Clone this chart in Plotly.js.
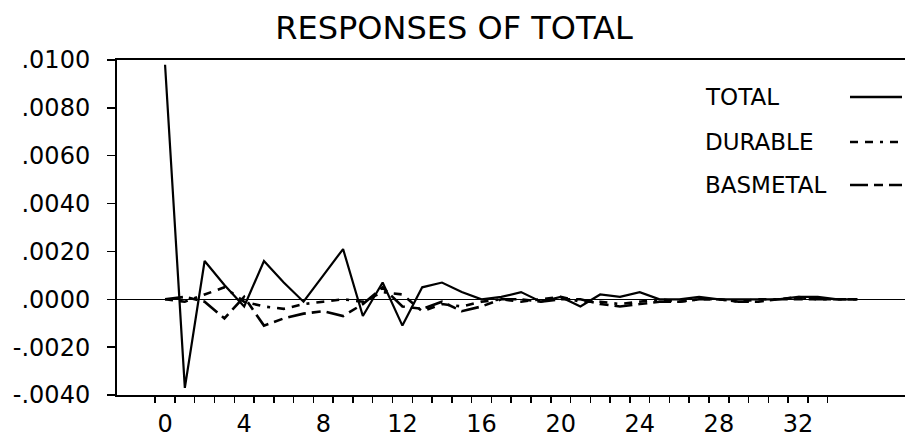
<!DOCTYPE html>
<html>
<head>
<meta charset="utf-8">
<script src="https://cdn.plot.ly/plotly-3.0.1.min.js"></script>
<style>html,body{margin:0;padding:0;background:#fff;}#chart{width:908px;height:437px;}</style>
</head>
<body>
<div id="chart"></div>
<script>
var steps = [];
for (var i = 0; i < 36; i++) steps.push(i);

var total = [0.0098, -0.0037, 0.0016, 0.0006, -0.0003, 0.0016, 0.0007, -0.0001, 0.0010, 0.0021,
             -0.0007, 0.0007, -0.0011, 0.0005, 0.0007, 0.0003, 0.0000, 0.0001, 0.0003, -0.0001,
             0.0001, -0.0003, 0.0002, 0.0001, 0.0003, 0.0000, 0.0000, 0.0001, 0.0000, 0.0000,
             0.0000, 0.0000, 0.0001, 0.0001, 0.0000, 0.0000];
var durable = [0.0000, -0.0001, 0.0002, 0.0005, -0.0001, -0.0003, -0.0004, -0.0002, -0.0001, 0.0000,
               -0.0001, 0.0003, 0.0002, -0.0005, -0.0002, -0.0003, -0.0001, 0.0000, -0.0001, 0.0000,
               0.0001, -0.0001, -0.0001, -0.0002, -0.0001, 0.0000, -0.0001, 0.0000, 0.0000, -0.0001,
               0.0000, 0.0000, 0.0001, 0.0000, 0.0000, 0.0000];
var basmetal = [0.0000, 0.0001, -0.0001, -0.0008, 0.0001, -0.0011, -0.0008, -0.0006, -0.0005, -0.0007,
                -0.0002, 0.0005, -0.0003, -0.0004, -0.0001, -0.0005, -0.0003, 0.0000, 0.0000, -0.0001,
                0.0000, 0.0000, -0.0002, -0.0003, -0.0002, -0.0001, -0.0001, 0.0000, 0.0000, -0.0001,
                -0.0001, 0.0000, 0.0000, 0.0000, 0.0000, 0.0000];

var seriesNames = ["TOTAL", "DURABLE", "BASMETAL"];
var xTickVals = [0, 4, 8, 12, 16, 20, 24, 28, 32];
var xTickText = ["0", "4", "8", "12", "16", "20", "24", "28", "32"];
var yTickVals = [-0.004, -0.002, 0, 0.002, 0.004, 0.006, 0.008, 0.010];
var yTickText = ["-.0040", "-.0020", ".0000", ".0020", ".0040", ".0060", ".0080", ".0100"];
var minorTicks = [];
for (var j = 0; j < 35; j++) minorTicks.push(j - 0.5);

var dashes = ["solid", "8px,7px,8px,7px,3px,7px", "18px,6px,9px,6px"];
var values = [total, durable, basmetal];
var FONT = "DejaVu Sans, Liberation Sans, sans-serif";

var traces = values.map(function (v, k) {
  return {x: steps, y: v, type: "scatter", mode: "lines", name: seriesNames[k],
          line: {color: "#000", width: k === 0 ? 2.2 : 2.6, dash: dashes[k]}, showlegend: false};
});

var legY = [0.8896, 0.7552, 0.6269];
var annotations = [], shapes = [];
seriesNames.forEach(function (n, k) {
  annotations.push({xref: "paper", yref: "paper", x: 0.7437, y: legY[k], xanchor: "left", yanchor: "middle",
                    text: n, showarrow: false, font: {family: FONT, size: 23, color: "#000"}});
  shapes.push({type: "line", xref: "paper", yref: "paper", x0: 0.9302, x1: 0.9962, y0: legY[k], y1: legY[k],
               line: {color: "#000", width: 2.4, dash: dashes[k]}});
});

var layout = {
  width: 908, height: 437,
  margin: {l: 117, r: 3, t: 60, b: 42},
  paper_bgcolor: "#fff", plot_bgcolor: "#fff",
  showlegend: false,
  title: {text: "RESPONSES OF TOTAL", font: {family: FONT, size: 32, color: "#000"},
          xref: "container", x: 454 / 908, xanchor: "center", yref: "container", y: 1 - 28 / 437, yanchor: "middle"},
  xaxis: {range: [-2.43, 37.41], showgrid: false, zeroline: false, showline: true, linecolor: "#000", linewidth: 2,
          mirror: true, tickmode: "array", tickvals: xTickVals, ticktext: xTickText, ticks: "",
          ticklabelstandoff: 6,
          minor: {tickmode: "array", tickvals: minorTicks, ticks: "outside", ticklen: 6, tickwidth: 1.5, tickcolor: "#000", showgrid: false},
          tickfont: {family: FONT, size: 24, color: "#000"}},
  yaxis: {range: [-0.004, 0.010], showgrid: false, zeroline: true, zerolinecolor: "#000", zerolinewidth: 1.2,
          showline: true, linecolor: "#000", linewidth: 2,
          tickmode: "array", tickvals: yTickVals, ticktext: yTickText, ticks: "outside", ticklen: 8, tickwidth: 1.5,
          tickcolor: "#000", ticklabelstandoff: 12,
          tickfont: {family: FONT, size: 24, color: "#000"}},
  annotations: annotations,
  shapes: shapes
};

Plotly.newPlot("chart", traces, layout, {displayModeBar: false, staticPlot: true});
</script>
</body>
</html>
